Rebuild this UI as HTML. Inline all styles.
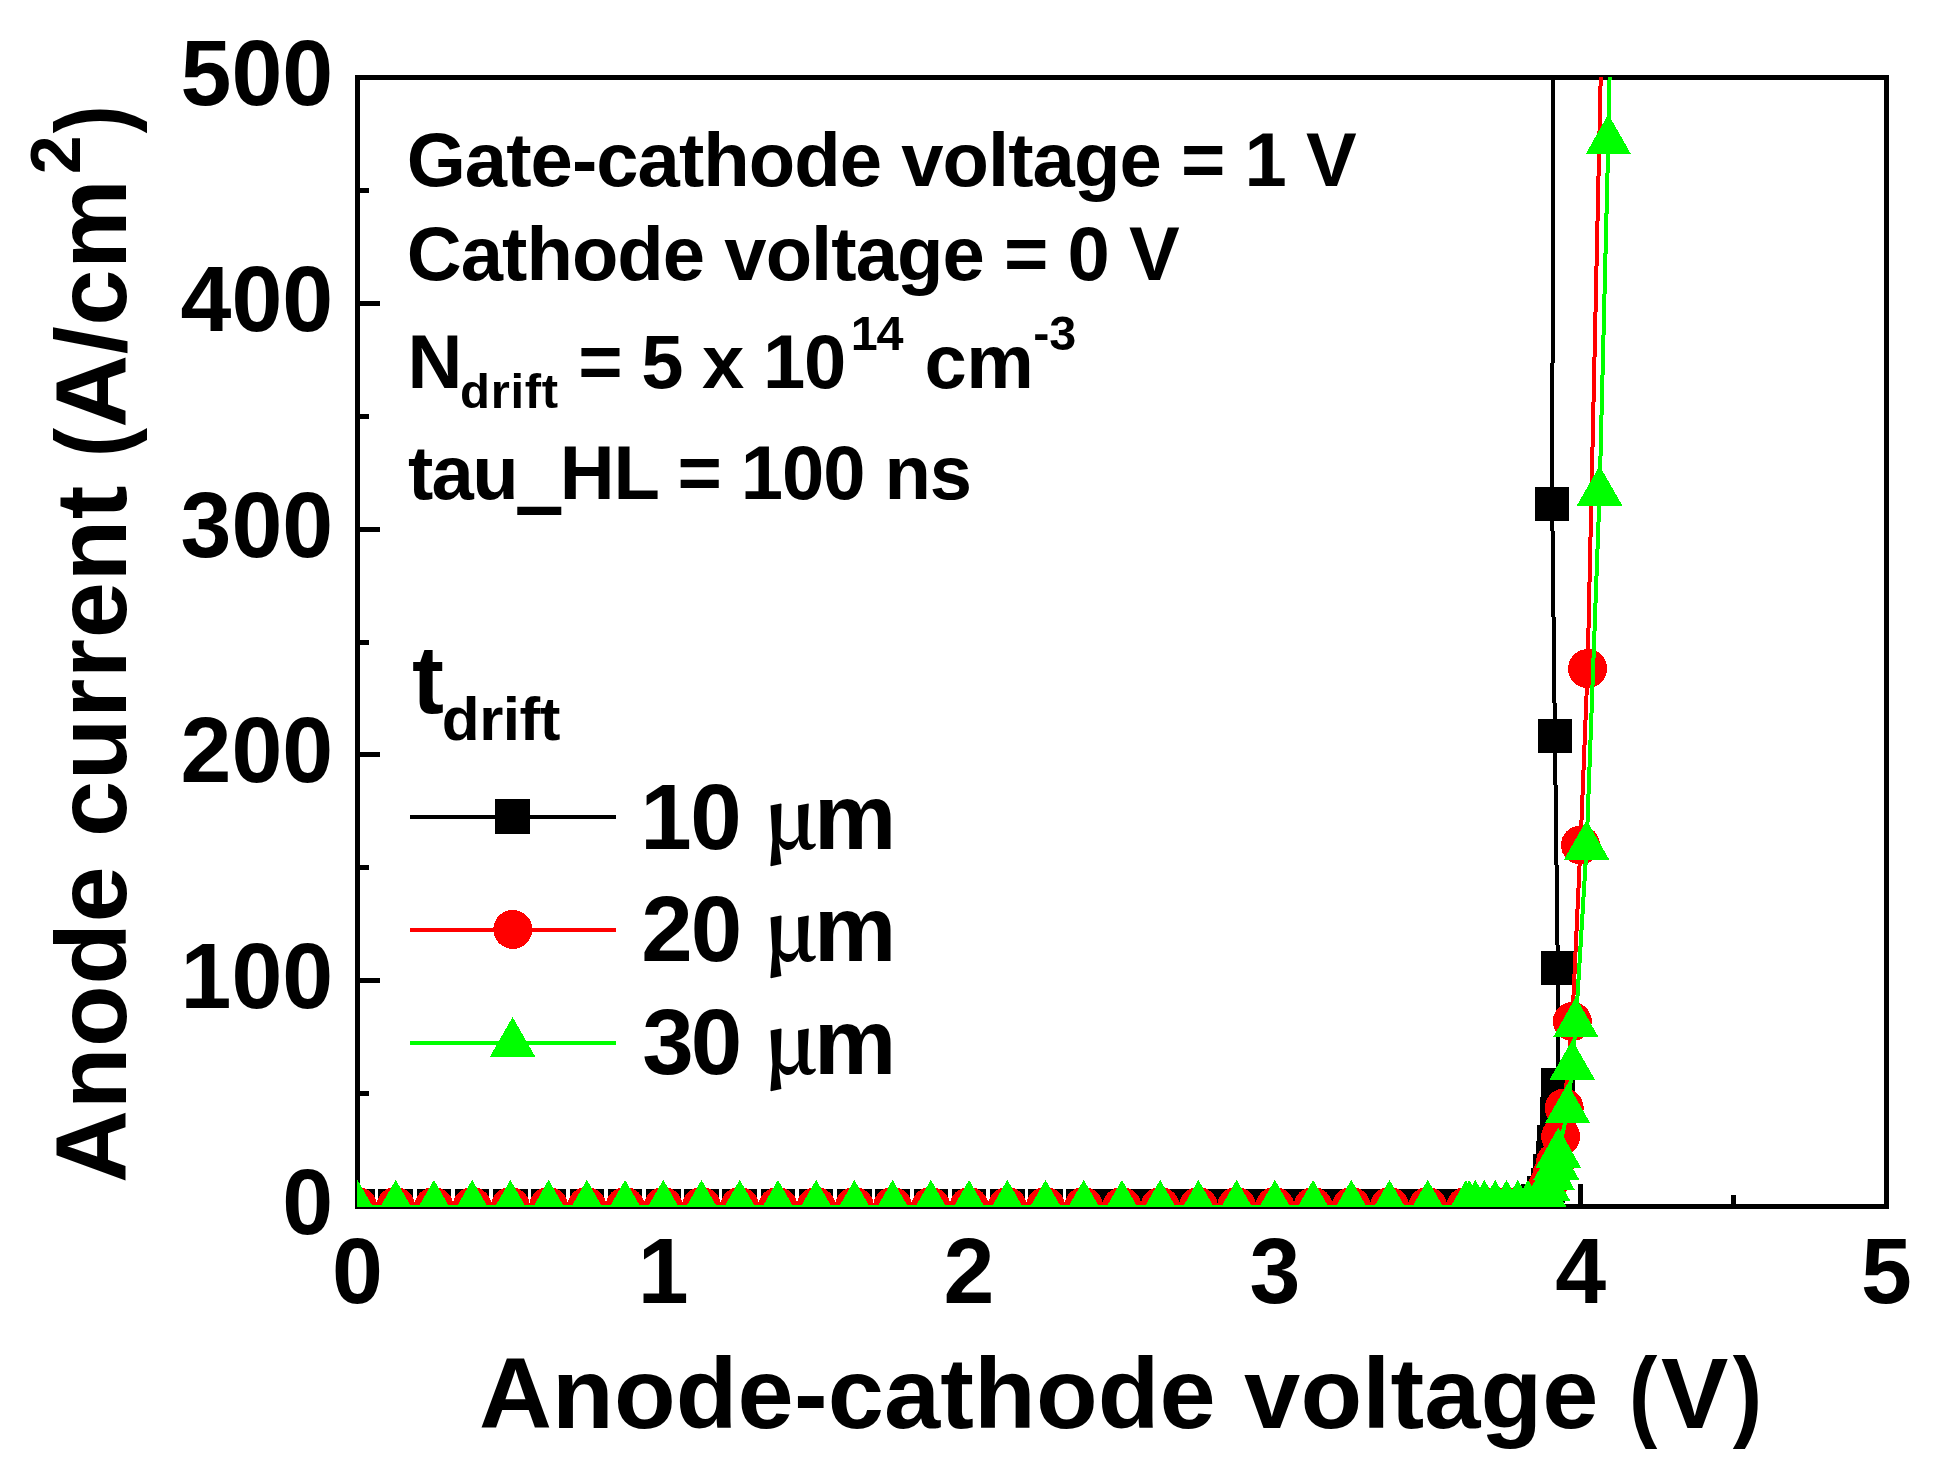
<!DOCTYPE html>
<html lang="en"><head><meta charset="utf-8"><title>Anode current vs anode-cathode voltage</title>
<style>
html,body{margin:0;padding:0;background:#fff;}
body{width:1942px;height:1479px;overflow:hidden;}
svg{display:block;}
text{font-family:"Liberation Sans",sans-serif;font-weight:bold;fill:#000;}
.tk{font-size:91.5px;}
</style></head><body>
<svg width="1942" height="1479" viewBox="0 0 1942 1479">
<rect width="1942" height="1479" fill="#fff"/>
<!-- axes frame and ticks -->
<g shape-rendering="crispEdges" stroke="#000" stroke-width="5" fill="none">
<rect x="357.5" y="77.5" width="1528.9" height="1129"/>
<path d="M357.5 1206.5v-22.5M510.39 1206.5v-11.5M663.28 1206.5v-22.5M816.17 1206.5v-11.5M969.06 1206.5v-22.5M1121.95 1206.5v-11.5M1274.84 1206.5v-22.5M1427.73 1206.5v-11.5M1580.62 1206.5v-22.5M1733.51 1206.5v-11.5M1886.4 1206.5v-22.5M357.5 1206.5h22.5M357.5 1093.6h11.5M357.5 980.7h22.5M357.5 867.8h11.5M357.5 754.9h22.5M357.5 642h11.5M357.5 529.1h22.5M357.5 416.2h11.5M357.5 303.3h22.5M357.5 190.4h11.5M357.5 77.5h22.5"/>
</g>
<!-- data series: 10 um (black squares), 20 um (red circles), 30 um (green triangles) -->
<clipPath id="c"><rect x="357" y="77" width="1529.5" height="1130"/></clipPath>
<g clip-path="url(#c)" shape-rendering="crispEdges">
<polyline fill="none" stroke="#000" stroke-width="4" stroke-linejoin="round" points="357.5,1206.5 395.72,1206.5 433.94,1206.5 472.17,1206.5 510.39,1206.5 548.61,1206.5 586.84,1206.5 625.06,1206.5 663.28,1206.5 701.5,1206.5 739.73,1206.5 777.95,1206.5 816.17,1206.5 854.39,1206.5 892.62,1206.5 930.84,1206.5 969.06,1206.5 1007.28,1206.5 1045.51,1206.5 1083.73,1206.5 1102.84,1206.5 1121.95,1206.5 1141.06,1206.5 1160.17,1206.5 1179.28,1206.5 1198.39,1206.5 1217.51,1206.5 1236.62,1206.5 1255.73,1206.5 1274.84,1206.5 1293.95,1206.5 1313.06,1206.5 1332.17,1206.5 1351.29,1206.5 1370.4,1206.5 1389.51,1206.5 1408.62,1206.5 1427.73,1206.5 1446.84,1206.5 1465.95,1206.5 1469.1,1206.5 1475.3,1206.5 1484.4,1206.5 1495.2,1206.5 1506.5,1206.5 1517.8,1206.5 1528,1206.5 1538.7,1201 1543.8,1193 1547.8,1185.7 1550.6,1171.5 1552.9,1158.5 1554.6,1142.6 1556.8,1113.8 1558,1084.9 1557.8,967.8 1554.9,736 1552.2,504 1553.3,30"/>
<path fill="#000" d="M340.25 1189.25h34.5v34.5h-34.5zM378.47 1189.25h34.5v34.5h-34.5zM416.69 1189.25h34.5v34.5h-34.5zM454.92 1189.25h34.5v34.5h-34.5zM493.14 1189.25h34.5v34.5h-34.5zM531.36 1189.25h34.5v34.5h-34.5zM569.59 1189.25h34.5v34.5h-34.5zM607.81 1189.25h34.5v34.5h-34.5zM646.03 1189.25h34.5v34.5h-34.5zM684.25 1189.25h34.5v34.5h-34.5zM722.48 1189.25h34.5v34.5h-34.5zM760.7 1189.25h34.5v34.5h-34.5zM798.92 1189.25h34.5v34.5h-34.5zM837.14 1189.25h34.5v34.5h-34.5zM875.37 1189.25h34.5v34.5h-34.5zM913.59 1189.25h34.5v34.5h-34.5zM951.81 1189.25h34.5v34.5h-34.5zM990.03 1189.25h34.5v34.5h-34.5zM1028.26 1189.25h34.5v34.5h-34.5zM1066.48 1189.25h34.5v34.5h-34.5zM1085.59 1189.25h34.5v34.5h-34.5zM1104.7 1189.25h34.5v34.5h-34.5zM1123.81 1189.25h34.5v34.5h-34.5zM1142.92 1189.25h34.5v34.5h-34.5zM1162.03 1189.25h34.5v34.5h-34.5zM1181.14 1189.25h34.5v34.5h-34.5zM1200.26 1189.25h34.5v34.5h-34.5zM1219.37 1189.25h34.5v34.5h-34.5zM1238.48 1189.25h34.5v34.5h-34.5zM1257.59 1189.25h34.5v34.5h-34.5zM1276.7 1189.25h34.5v34.5h-34.5zM1295.81 1189.25h34.5v34.5h-34.5zM1314.92 1189.25h34.5v34.5h-34.5zM1334.04 1189.25h34.5v34.5h-34.5zM1353.15 1189.25h34.5v34.5h-34.5zM1372.26 1189.25h34.5v34.5h-34.5zM1391.37 1189.25h34.5v34.5h-34.5zM1410.48 1189.25h34.5v34.5h-34.5zM1429.59 1189.25h34.5v34.5h-34.5zM1448.7 1189.25h34.5v34.5h-34.5zM1451.85 1189.25h34.5v34.5h-34.5zM1458.05 1189.25h34.5v34.5h-34.5zM1467.15 1189.25h34.5v34.5h-34.5zM1477.95 1189.25h34.5v34.5h-34.5zM1489.25 1189.25h34.5v34.5h-34.5zM1500.55 1189.25h34.5v34.5h-34.5zM1510.75 1189.25h34.5v34.5h-34.5zM1521.45 1183.75h34.5v34.5h-34.5zM1526.55 1175.75h34.5v34.5h-34.5zM1530.55 1168.45h34.5v34.5h-34.5zM1533.35 1154.25h34.5v34.5h-34.5zM1535.65 1141.25h34.5v34.5h-34.5zM1537.35 1125.35h34.5v34.5h-34.5zM1539.55 1096.55h34.5v34.5h-34.5zM1540.75 1067.65h34.5v34.5h-34.5zM1540.55 950.55h34.5v34.5h-34.5zM1537.65 718.75h34.5v34.5h-34.5zM1534.95 486.75h34.5v34.5h-34.5zM1536.05 12.75h34.5v34.5h-34.5z"/>
<polyline fill="none" stroke="#f00" stroke-width="4" stroke-linejoin="round" points="357.5,1206.5 395.72,1206.5 433.94,1206.5 472.17,1206.5 510.39,1206.5 548.61,1206.5 586.84,1206.5 625.06,1206.5 663.28,1206.5 701.5,1206.5 739.73,1206.5 777.95,1206.5 816.17,1206.5 854.39,1206.5 892.62,1206.5 930.84,1206.5 969.06,1206.5 1007.28,1206.5 1045.51,1206.5 1083.73,1206.5 1121.95,1206.5 1160.17,1206.5 1198.39,1206.5 1236.62,1206.5 1274.84,1206.5 1313.06,1206.5 1351.29,1206.5 1389.51,1206.5 1427.73,1206.5 1465.95,1206.5 1469.1,1206.5 1475.3,1206.5 1484.4,1206.5 1495.2,1206.5 1506.5,1206.5 1517.8,1206.5 1528,1206.5 1537,1203 1543,1195 1548,1185 1552,1174 1555.5,1162 1560.7,1136.5 1564.2,1108 1572.3,1021.5 1580.5,845 1587.6,668.6 1603.3,-40"/>
<path fill="#f00" d="M338 1206.5a19.5 19.5 0 1 0 39.0 0a19.5 19.5 0 1 0 -39.0 0zM376.22 1206.5a19.5 19.5 0 1 0 39.0 0a19.5 19.5 0 1 0 -39.0 0zM414.44 1206.5a19.5 19.5 0 1 0 39.0 0a19.5 19.5 0 1 0 -39.0 0zM452.67 1206.5a19.5 19.5 0 1 0 39.0 0a19.5 19.5 0 1 0 -39.0 0zM490.89 1206.5a19.5 19.5 0 1 0 39.0 0a19.5 19.5 0 1 0 -39.0 0zM529.11 1206.5a19.5 19.5 0 1 0 39.0 0a19.5 19.5 0 1 0 -39.0 0zM567.34 1206.5a19.5 19.5 0 1 0 39.0 0a19.5 19.5 0 1 0 -39.0 0zM605.56 1206.5a19.5 19.5 0 1 0 39.0 0a19.5 19.5 0 1 0 -39.0 0zM643.78 1206.5a19.5 19.5 0 1 0 39.0 0a19.5 19.5 0 1 0 -39.0 0zM682 1206.5a19.5 19.5 0 1 0 39.0 0a19.5 19.5 0 1 0 -39.0 0zM720.23 1206.5a19.5 19.5 0 1 0 39.0 0a19.5 19.5 0 1 0 -39.0 0zM758.45 1206.5a19.5 19.5 0 1 0 39.0 0a19.5 19.5 0 1 0 -39.0 0zM796.67 1206.5a19.5 19.5 0 1 0 39.0 0a19.5 19.5 0 1 0 -39.0 0zM834.89 1206.5a19.5 19.5 0 1 0 39.0 0a19.5 19.5 0 1 0 -39.0 0zM873.12 1206.5a19.5 19.5 0 1 0 39.0 0a19.5 19.5 0 1 0 -39.0 0zM911.34 1206.5a19.5 19.5 0 1 0 39.0 0a19.5 19.5 0 1 0 -39.0 0zM949.56 1206.5a19.5 19.5 0 1 0 39.0 0a19.5 19.5 0 1 0 -39.0 0zM987.78 1206.5a19.5 19.5 0 1 0 39.0 0a19.5 19.5 0 1 0 -39.0 0zM1026.01 1206.5a19.5 19.5 0 1 0 39.0 0a19.5 19.5 0 1 0 -39.0 0zM1064.23 1206.5a19.5 19.5 0 1 0 39.0 0a19.5 19.5 0 1 0 -39.0 0zM1102.45 1206.5a19.5 19.5 0 1 0 39.0 0a19.5 19.5 0 1 0 -39.0 0zM1140.67 1206.5a19.5 19.5 0 1 0 39.0 0a19.5 19.5 0 1 0 -39.0 0zM1178.89 1206.5a19.5 19.5 0 1 0 39.0 0a19.5 19.5 0 1 0 -39.0 0zM1217.12 1206.5a19.5 19.5 0 1 0 39.0 0a19.5 19.5 0 1 0 -39.0 0zM1255.34 1206.5a19.5 19.5 0 1 0 39.0 0a19.5 19.5 0 1 0 -39.0 0zM1293.56 1206.5a19.5 19.5 0 1 0 39.0 0a19.5 19.5 0 1 0 -39.0 0zM1331.79 1206.5a19.5 19.5 0 1 0 39.0 0a19.5 19.5 0 1 0 -39.0 0zM1370.01 1206.5a19.5 19.5 0 1 0 39.0 0a19.5 19.5 0 1 0 -39.0 0zM1408.23 1206.5a19.5 19.5 0 1 0 39.0 0a19.5 19.5 0 1 0 -39.0 0zM1446.45 1206.5a19.5 19.5 0 1 0 39.0 0a19.5 19.5 0 1 0 -39.0 0zM1449.6 1206.5a19.5 19.5 0 1 0 39.0 0a19.5 19.5 0 1 0 -39.0 0zM1455.8 1206.5a19.5 19.5 0 1 0 39.0 0a19.5 19.5 0 1 0 -39.0 0zM1464.9 1206.5a19.5 19.5 0 1 0 39.0 0a19.5 19.5 0 1 0 -39.0 0zM1475.7 1206.5a19.5 19.5 0 1 0 39.0 0a19.5 19.5 0 1 0 -39.0 0zM1487 1206.5a19.5 19.5 0 1 0 39.0 0a19.5 19.5 0 1 0 -39.0 0zM1498.3 1206.5a19.5 19.5 0 1 0 39.0 0a19.5 19.5 0 1 0 -39.0 0zM1508.5 1206.5a19.5 19.5 0 1 0 39.0 0a19.5 19.5 0 1 0 -39.0 0zM1517.5 1203a19.5 19.5 0 1 0 39.0 0a19.5 19.5 0 1 0 -39.0 0zM1523.5 1195a19.5 19.5 0 1 0 39.0 0a19.5 19.5 0 1 0 -39.0 0zM1528.5 1185a19.5 19.5 0 1 0 39.0 0a19.5 19.5 0 1 0 -39.0 0zM1532.5 1174a19.5 19.5 0 1 0 39.0 0a19.5 19.5 0 1 0 -39.0 0zM1536 1162a19.5 19.5 0 1 0 39.0 0a19.5 19.5 0 1 0 -39.0 0zM1541.2 1136.5a19.5 19.5 0 1 0 39.0 0a19.5 19.5 0 1 0 -39.0 0zM1544.7 1108a19.5 19.5 0 1 0 39.0 0a19.5 19.5 0 1 0 -39.0 0zM1552.8 1021.5a19.5 19.5 0 1 0 39.0 0a19.5 19.5 0 1 0 -39.0 0zM1561 845a19.5 19.5 0 1 0 39.0 0a19.5 19.5 0 1 0 -39.0 0zM1568.1 668.6a19.5 19.5 0 1 0 39.0 0a19.5 19.5 0 1 0 -39.0 0zM1583.8 -40a19.5 19.5 0 1 0 39.0 0a19.5 19.5 0 1 0 -39.0 0z"/>
<polyline fill="none" stroke="#0f0" stroke-width="4" stroke-linejoin="round" points="357.5,1206.5 395.72,1206.5 433.94,1206.5 472.17,1206.5 510.39,1206.5 548.61,1206.5 586.84,1206.5 625.06,1206.5 663.28,1206.5 701.5,1206.5 739.73,1206.5 777.95,1206.5 816.17,1206.5 854.39,1206.5 892.62,1206.5 930.84,1206.5 969.06,1206.5 1007.28,1206.5 1045.51,1206.5 1083.73,1206.5 1121.95,1206.5 1160.17,1206.5 1198.39,1206.5 1236.62,1206.5 1274.84,1206.5 1313.06,1206.5 1351.29,1206.5 1389.51,1206.5 1427.73,1206.5 1465.95,1206.5 1469.1,1206.5 1475.3,1206.5 1484.4,1206.5 1495.2,1206.5 1506.5,1206.5 1517.8,1206.5 1528,1206.5 1538,1203 1545,1196 1547.3,1187.2 1552.3,1177 1556.3,1166.2 1558.3,1154.3 1567.6,1110.1 1572.2,1066.5 1575.8,1023.9 1586.6,846.7 1599.6,492.4 1608.3,141 1613.5,-120"/>
<path fill="#0f0" d="M357.5 1179.8l22.8 40h-45.6zM395.72 1179.8l22.8 40h-45.6zM433.94 1179.8l22.8 40h-45.6zM472.17 1179.8l22.8 40h-45.6zM510.39 1179.8l22.8 40h-45.6zM548.61 1179.8l22.8 40h-45.6zM586.84 1179.8l22.8 40h-45.6zM625.06 1179.8l22.8 40h-45.6zM663.28 1179.8l22.8 40h-45.6zM701.5 1179.8l22.8 40h-45.6zM739.73 1179.8l22.8 40h-45.6zM777.95 1179.8l22.8 40h-45.6zM816.17 1179.8l22.8 40h-45.6zM854.39 1179.8l22.8 40h-45.6zM892.62 1179.8l22.8 40h-45.6zM930.84 1179.8l22.8 40h-45.6zM969.06 1179.8l22.8 40h-45.6zM1007.28 1179.8l22.8 40h-45.6zM1045.51 1179.8l22.8 40h-45.6zM1083.73 1179.8l22.8 40h-45.6zM1121.95 1179.8l22.8 40h-45.6zM1160.17 1179.8l22.8 40h-45.6zM1198.39 1179.8l22.8 40h-45.6zM1236.62 1179.8l22.8 40h-45.6zM1274.84 1179.8l22.8 40h-45.6zM1313.06 1179.8l22.8 40h-45.6zM1351.29 1179.8l22.8 40h-45.6zM1389.51 1179.8l22.8 40h-45.6zM1427.73 1179.8l22.8 40h-45.6zM1465.95 1179.8l22.8 40h-45.6zM1469.1 1179.8l22.8 40h-45.6zM1475.3 1179.8l22.8 40h-45.6zM1484.4 1179.8l22.8 40h-45.6zM1495.2 1179.8l22.8 40h-45.6zM1506.5 1179.8l22.8 40h-45.6zM1517.8 1179.8l22.8 40h-45.6zM1528 1179.8l22.8 40h-45.6zM1538 1176.3l22.8 40h-45.6zM1545 1169.3l22.8 40h-45.6zM1547.3 1160.5l22.8 40h-45.6zM1552.3 1150.3l22.8 40h-45.6zM1556.3 1139.5l22.8 40h-45.6zM1558.3 1127.6l22.8 40h-45.6zM1567.6 1083.4l22.8 40h-45.6zM1572.2 1039.8l22.8 40h-45.6zM1575.8 997.2l22.8 40h-45.6zM1586.6 820l22.8 40h-45.6zM1599.6 465.7l22.8 40h-45.6zM1608.3 114.3l22.8 40h-45.6zM1613.5 -146.7l22.8 40h-45.6z"/>
</g>
<!-- tick labels -->
<text class="tk" text-anchor="end" transform="translate(333.2,1233.9) scale(1,1.02)">0</text>
<text class="tk" text-anchor="end" transform="translate(333.2,1008.1) scale(1,1.02)">100</text>
<text class="tk" text-anchor="end" transform="translate(333.2,782.3) scale(1,1.02)">200</text>
<text class="tk" text-anchor="end" transform="translate(333.2,556.5) scale(1,1.02)">300</text>
<text class="tk" text-anchor="end" transform="translate(333.2,330.7) scale(1,1.02)">400</text>
<text class="tk" text-anchor="end" transform="translate(333.2,104.9) scale(1,1.02)">500</text>
<text class="tk" text-anchor="middle" transform="translate(357.5,1302.8) scale(1,1.02)">0</text>
<text class="tk" text-anchor="middle" transform="translate(663.28,1302.8) scale(1,1.02)">1</text>
<text class="tk" text-anchor="middle" transform="translate(969.06,1302.8) scale(1,1.02)">2</text>
<text class="tk" text-anchor="middle" transform="translate(1274.84,1302.8) scale(1,1.02)">3</text>
<text class="tk" text-anchor="middle" transform="translate(1580.62,1302.8) scale(1,1.02)">4</text>
<text class="tk" text-anchor="middle" transform="translate(1886.4,1302.8) scale(1,1.02)">5</text>
<!-- annotations, legend, axis titles -->
<text class="an"><tspan x="406.7" y="185.9" style="font-size:76px;letter-spacing:-0.94px;">Gate-cathode voltage = 1 V</tspan></text>
<text class="an"><tspan x="406.8" y="280.2" style="font-size:76px;letter-spacing:-0.95px;">Cathode voltage = 0 V</tspan></text>
<text class="an"><tspan x="407.6" y="387.5" style="font-size:76px;">N</tspan><tspan x="460" y="408" style="font-size:49px;letter-spacing:0.72px;">drift </tspan><tspan x="578.3" y="387.5" style="font-size:76px;letter-spacing:-1.27px;">= 5 x 10</tspan><tspan x="850.8" y="350.4" style="font-size:48.5px;letter-spacing:-1.2px;">14 </tspan><tspan x="924.4" y="387.5" style="font-size:76px;letter-spacing:-0.4px;">cm</tspan><tspan x="1033.2" y="350.4" style="font-size:48.5px;letter-spacing:-0.1px;">-3</tspan></text>
<text class="an"><tspan x="408" y="499.3" style="font-size:76px;letter-spacing:-1.7px;">tau</tspan><tspan x="517.9" y="488.2" style="font-size:218px;" textLength="42.57" lengthAdjust="spacingAndGlyphs">_</tspan><tspan x="559.7" y="499.3" style="font-size:76px;letter-spacing:-1.08px;">HL = 100 ns</tspan></text>
<text class="lg"><tspan x="411.9" y="712.7" style="font-size:96px;">t</tspan><tspan x="441.8" y="739.7" style="font-size:62px;letter-spacing:-0.48px;">drift</tspan></text>
<text class="lg"><tspan x="640.2" y="849.2" style="font-size:92.5px;letter-spacing:-1.4px;">10 </tspan><tspan x="763.6" y="849.2" style="font-size:82px;font-family:'Noto Serif CJK SC','Liberation Serif',serif;font-weight:700;">μ</tspan><tspan x="814" y="849.2" style="font-size:92.5px;">m</tspan></text>
<text class="lg"><tspan x="641.2" y="961.4" style="font-size:92.5px;letter-spacing:-2px;">20 </tspan><tspan x="763.6" y="961.4" style="font-size:82px;font-family:'Noto Serif CJK SC','Liberation Serif',serif;font-weight:700;">μ</tspan><tspan x="814" y="961.4" style="font-size:92.5px;">m</tspan></text>
<text class="lg"><tspan x="642.2" y="1073.6" style="font-size:92.5px;letter-spacing:-3px;">30 </tspan><tspan x="763.6" y="1073.6" style="font-size:82px;font-family:'Noto Serif CJK SC','Liberation Serif',serif;font-weight:700;">μ</tspan><tspan x="814" y="1073.6" style="font-size:92.5px;">m</tspan></text>
<text class="ti"><tspan x="479" y="1427.8" style="font-size:101px;letter-spacing:0.14px;">Anode-cathode voltage </tspan><tspan x="1628.99" y="1427.8" style="font-size:101px;" textLength="28.35" lengthAdjust="spacingAndGlyphs">(</tspan><tspan x="1661" y="1427.8" style="font-size:101px;">V</tspan><tspan x="1732.7" y="1427.8" style="font-size:101px;" textLength="29.34" lengthAdjust="spacingAndGlyphs">)</tspan></text>
<text class="ti" transform="rotate(-90)"><tspan x="-1182.9" y="126.2" style="font-size:101px;letter-spacing:0.59px;">Anode current </tspan><tspan x="-457.16" y="126.2" style="font-size:101px;" textLength="29.31" lengthAdjust="spacingAndGlyphs">(</tspan><tspan x="-427.7" y="126.2" style="font-size:101px;letter-spacing:0.53px;">A/cm</tspan><tspan x="-174.2" y="80.1" style="font-size:70px;">2</tspan><tspan x="-133.3" y="126.2" style="font-size:101px;" textLength="27.83" lengthAdjust="spacingAndGlyphs">)</tspan></text>
<g shape-rendering="crispEdges">
<line x1="409.5" y1="817" x2="615.5" y2="817" stroke="#000" stroke-width="4"/>
<line x1="409.5" y1="929.5" x2="615.5" y2="929.5" stroke="#f00" stroke-width="4"/>
<line x1="409.5" y1="1043" x2="615.5" y2="1043" stroke="#0f0" stroke-width="4"/>
<path fill="#000" d="M495.1 799h35v35h-35z"/>
<path fill="#f00" d="M493.3 929.4a19.5 19.5 0 1 0 39.0 0a19.5 19.5 0 1 0 -39.0 0z"/>
<path fill="#0f0" d="M512.6 1017l22.8 40h-45.6z"/>
</g>
</svg></body></html>
